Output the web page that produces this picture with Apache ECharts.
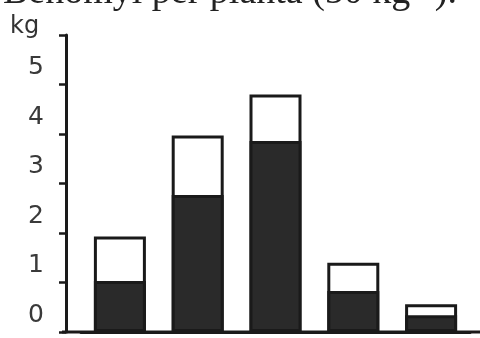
<!DOCTYPE html>
<html>
<head>
<meta charset="utf-8">
<script src="https://cdn.jsdelivr.net/npm/echarts@6/dist/echarts.min.js"></script>
<style>html,body{margin:0;padding:0;background:#fff}#c{width:480px;height:338px}</style>
</head>
<body>
<div id="c"></div>
<script>
var titleText = 'Benomyl per planta (50 kg\u207B\u00B9).';
var unitLabel = 'kg';
var categories = ['1', '2', '3', '4', '5'];
var totalValues = [1.93, 3.97, 4.80, 1.40, 0.56];
var darkValues = [1.03, 2.77, 3.86, 0.83, 0.34];
var yTickLabels = ['0', '1', '2', '3', '4', '5'];

var chart = echarts.init(document.getElementById('c'), null, {renderer: 'canvas'});
var option = {
  animation: false,
  backgroundColor: '#fff',
  title: [
    {text: titleText, left: -2, top: -31,
     textStyle: {fontFamily: 'Liberation Serif', fontSize: 38, fontWeight: 'normal', color: '#222'}},
    {text: unitLabel, left: 5, top: 10,
     textStyle: {fontFamily: 'DejaVu Sans', fontSize: 24, fontWeight: 'normal', color: '#333'}}
  ],
  grid: {left: 81, right: 10, top: 35, bottom: 6, containLabel: false},
  xAxis: {
    type: 'category', data: categories,
    axisLine: {show: true, lineStyle: {color: '#1a1a1a', width: 3}},
    axisTick: {show: false}, axisLabel: {show: false}, splitLine: {show: false}
  },
  yAxis: {
    type: 'value', min: 0, max: 6, interval: 1, offset: 15,
    axisLine: {show: true, lineStyle: {color: '#1a1a1a', width: 3}},
    axisTick: {show: true, inside: false, length: 7, lineStyle: {color: '#1a1a1a', width: 2.5}},
    splitLine: {show: false},
    axisLabel: {
      margin: 22, fontFamily: 'DejaVu Sans', fontSize: 25, color: '#3a3a3a',
      verticalAlign: 'bottom', lineHeight: 34,
      formatter: function (v) { return yTickLabels[v] !== undefined ? yTickLabels[v] : ''; }
    }
  },
  series: [
    {type: 'bar', data: totalValues, barWidth: 52, barGap: '-100%',
     itemStyle: {color: '#fff', borderColor: '#1a1a1a', borderWidth: 3}},
    {type: 'bar', data: darkValues, barWidth: 52, barGap: '-100%',
     itemStyle: {color: '#2a2a2a', borderColor: '#1a1a1a', borderWidth: 3}}
  ]
};
chart.setOption(option);
var p0 = chart.convertToPixel({yAxisIndex: 0}, 0);
chart.setOption({graphic: [{type: 'line', shape: {x1: 62, y1: p0, x2: 480, y2: p0},
  style: {stroke: '#1a1a1a', lineWidth: 3}, z: 10}]});
</script>
</body>
</html>
